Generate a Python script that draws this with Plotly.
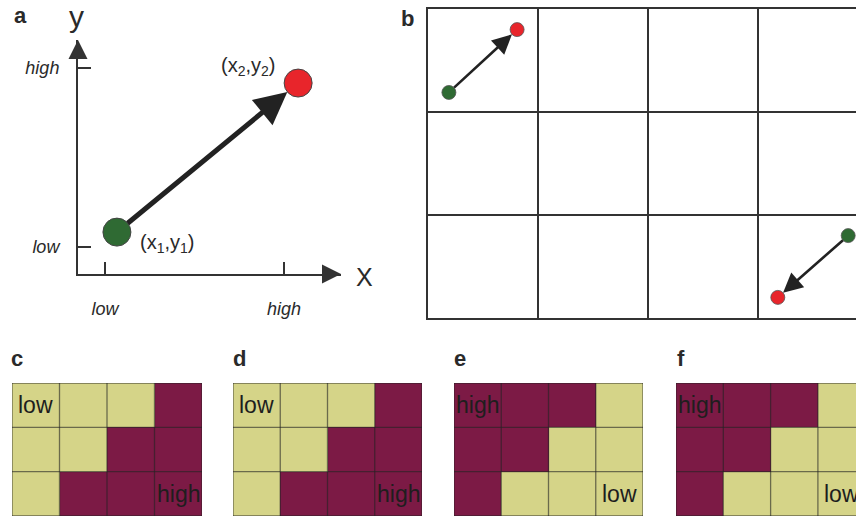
import plotly.graph_objects as go

W, H = 856, 520
FONT = "Liberation Sans, Arial, sans-serif"
YEL = "#d5d488"
MAR = "#7c1a45"
GREEN = "#2f6a33"
RED = "#e8252b"
DARK = "#2a2a2a"

# ---------- data ----------
# panel a (conceptual x/y plane)
a_tick_x = [1.03, 7.83]
a_tick_y = [1.15, 8.8]
a_tick_text = ["low", "high"]
a_start = (1.48, 1.79)   # (x1, y1)
a_end = (8.37, 8.16)     # (x2, y2)

# panel b (3 x 4 grid, two transitions)
b_starts_x = [0.19, 3.82]
b_starts_y = [2.19, 0.80]
b_ends_x = [0.81, 3.18]
b_ends_y = [2.80, 0.20]

# panels c-f (0 = low / yellow, 1 = high / maroon), rows top to bottom
grid_c = [[0, 0, 0, 1], [0, 0, 1, 1], [0, 1, 1, 1]]
grid_d = [[0, 0, 0, 1], [0, 0, 1, 1], [0, 1, 1, 1]]
grid_e = [[1, 1, 1, 0], [1, 1, 0, 0], [1, 0, 0, 0]]
grid_f = [[1, 1, 1, 0], [1, 1, 0, 0], [1, 0, 0, 0]]
grid_labels = {
    "c": [("low", 0, 0), ("high", 3, 2)],
    "d": [("low", 0, 0), ("high", 3, 2)],
    "e": [("high", 0, 0), ("low", 3, 2)],
    "f": [("high", 0, 0), ("low", 3, 2)],
}


def px(xp):
    return xp / W


def py(yp):
    return 1 - yp / H


fig = go.Figure()

# ---------- panel a ----------
fig.add_trace(go.Scatter(
    x=[a_start[0], a_end[0]], y=[a_start[1], a_end[1]], mode="markers",
    marker=dict(size=28, color=[GREEN, RED], line=dict(color="#444", width=1)),
    xaxis="x", yaxis="y", cliponaxis=False, showlegend=False, hoverinfo="skip"))

# ---------- panel b ----------
fig.add_trace(go.Scatter(
    x=b_starts_x + b_ends_x, y=b_starts_y + b_ends_y, mode="markers",
    marker=dict(size=14, color=[GREEN, GREEN, RED, RED], line=dict(color="#555", width=0.8)),
    xaxis="x2", yaxis="y2", cliponaxis=False, showlegend=False, hoverinfo="skip"))

# ---------- panels c-f ----------
grids = [("c", grid_c, 3), ("d", grid_d, 4), ("e", grid_e, 5), ("f", grid_f, 6)]
for name, g, k in grids:
    fig.add_trace(go.Heatmap(
        z=g, x=list(range(len(g[0]))), y=list(range(len(g))),
        colorscale=[[0, YEL], [1, MAR]], zmin=0, zmax=1, showscale=False,
        xaxis=f"x{k}", yaxis=f"y{k}", hoverinfo="skip"))

annotations = []
shapes = []


def paper_text(txt, xp, yp, size, bold=False):
    return dict(x=px(xp), y=py(yp), xref="paper", yref="paper",
                text=f"<b>{txt}</b>" if bold else txt, showarrow=False,
                xanchor="center", yanchor="middle",
                font=dict(family=FONT, size=size, color=DARK))


# panel a axes arrows, main arrow and labels
annotations += [
    dict(x=10, y=0, ax=9.4, ay=0, xref="x", yref="y", axref="x", ayref="y",
         showarrow=True, arrowhead=2, arrowsize=1.9, arrowwidth=2, arrowcolor="#333", text=""),
    dict(x=0, y=10, ax=0, ay=9.3, xref="x", yref="y", axref="x", ayref="y",
         showarrow=True, arrowhead=2, arrowsize=1.9, arrowwidth=2, arrowcolor="#333", text=""),
    dict(x=a_end[0], y=a_end[1], ax=a_start[0], ay=a_start[1], xref="x", yref="y",
         axref="x", ayref="y", showarrow=True, arrowhead=2, arrowsize=1.3, arrowwidth=5,
         arrowcolor="#222", standoff=14, startstandoff=12, text=""),
    dict(x=6.5, y=8.85, xref="x", yref="y", text="(x<sub>2</sub>,y<sub>2</sub>)", showarrow=False,
         xanchor="center", yanchor="middle", font=dict(family=FONT, size=20, color=DARK)),
    dict(x=3.4, y=1.3, xref="x", yref="y", text="(x<sub>1</sub>,y<sub>1</sub>)", showarrow=False,
         xanchor="center", yanchor="middle", font=dict(family=FONT, size=20, color=DARK)),
    paper_text("y", 76, 16, 30),
    paper_text("X", 364, 277, 25),
]

# panel b arrows
for sx, sy, ex, ey in zip(b_starts_x, b_starts_y, b_ends_x, b_ends_y):
    annotations.append(dict(x=ex, y=ey, ax=sx, ay=sy, xref="x2", yref="y2", axref="x2", ayref="y2",
                            showarrow=True, arrowhead=2, arrowsize=1.5, arrowwidth=2.6,
                            arrowcolor="#222", standoff=7, startstandoff=5, text=""))

# grid lines & labels for c-f
for name, g, k in grids:
    nr, nc = len(g), len(g[0])
    for i in range(nc + 1):
        shapes.append(dict(type="line", xref=f"x{k}", yref=f"y{k}", x0=i - 0.5, x1=i - 0.5,
                           y0=-0.5, y1=nr - 0.5, line=dict(color="rgba(35,35,35,0.6)", width=1.3),
                           layer="above"))
    for j in range(nr + 1):
        shapes.append(dict(type="line", xref=f"x{k}", yref=f"y{k}", x0=-0.5, x1=nc - 0.5,
                           y0=j - 0.5, y1=j - 0.5, line=dict(color="rgba(35,35,35,0.6)", width=1.3),
                           layer="above"))
    for txt, cx, cy in grid_labels[name]:
        annotations.append(dict(x=cx, y=cy, xref=f"x{k}", yref=f"y{k}", text=txt, showarrow=False,
                                xanchor="center", yanchor="middle",
                                font=dict(family=FONT, size=23, color="#1e1e1e")))

# panel letters
for letter, xp, yp in [("a", 20, 15), ("b", 407, 19), ("c", 17, 358), ("d", 239, 358),
                       ("e", 460, 358), ("f", 681, 358)]:
    annotations.append(paper_text(letter, xp, yp, 22, bold=True))

hidden = dict(showgrid=False, zeroline=False, showticklabels=False, ticks="", showline=False)

layout = dict(
    width=W, height=H, margin=dict(l=0, r=0, t=0, b=0),
    paper_bgcolor="white", plot_bgcolor="rgba(0,0,0,0)",
    font=dict(family=FONT, color=DARK),
    annotations=annotations, shapes=shapes,
    # panel a
    xaxis=dict(domain=[px(78), px(341)], range=[0, 10], anchor="y", showgrid=False, zeroline=False,
               showline=True, linecolor="#333", linewidth=2, ticks="inside", ticklen=12,
               tickwidth=1.5, tickcolor="#333", tickvals=a_tick_x,
               ticktext=[f"<i>{t}</i>" for t in a_tick_text], ticklabelstandoff=17,
               tickfont=dict(family=FONT, size=18, color=DARK)),
    yaxis=dict(domain=[py(274), py(40)], range=[0, 10], anchor="x", showgrid=False, zeroline=False,
               showline=True, linecolor="#333", linewidth=2, ticks="inside", ticklen=13,
               tickwidth=1.5, tickcolor="#333", tickvals=a_tick_y,
               ticktext=[f"<i>{t}</i>" for t in a_tick_text], ticklabelstandoff=13,
               tickfont=dict(family=FONT, size=18, color=DARK)),
    # panel b
    xaxis2=dict(domain=[px(428), 1], range=[0, (W - 428) / 110], anchor="y2", showgrid=True,
                dtick=1, tick0=0, gridcolor="#333", gridwidth=1.5, zeroline=False,
                showticklabels=False, ticks="", showline=True, mirror=True, linecolor="#333",
                linewidth=1.5),
    yaxis2=dict(domain=[py(318), py(9)], range=[0, 3], anchor="x2", showgrid=True, dtick=1, tick0=0,
                gridcolor="#333", gridwidth=1.5, zeroline=False, showticklabels=False, ticks="",
                showline=True, linecolor="#333", linewidth=1.5),
)

panel_x = {3: (12, 202), 4: (233, 422), 5: (454, 643), 6: (676, None)}
for k, (x0, x1) in panel_x.items():
    if x1 is None:
        dom = [px(x0), 1]
        rng = [-0.5, -0.5 + (W - x0) / 47.3]
    else:
        dom = [px(x0), px(x1)]
        rng = [-0.5, 3.5]
    layout[f"xaxis{k}"] = dict(domain=dom, range=rng, anchor=f"y{k}", **hidden)
    layout[f"yaxis{k}"] = dict(domain=[py(516), py(383)], range=[2.5, -0.5], anchor=f"x{k}", **hidden)

fig.update_layout(**layout)
fig.write_html("out.html", config={"displayModeBar": False},
               post_script="document.body.style.margin='0';document.body.style.overflow='hidden';")
